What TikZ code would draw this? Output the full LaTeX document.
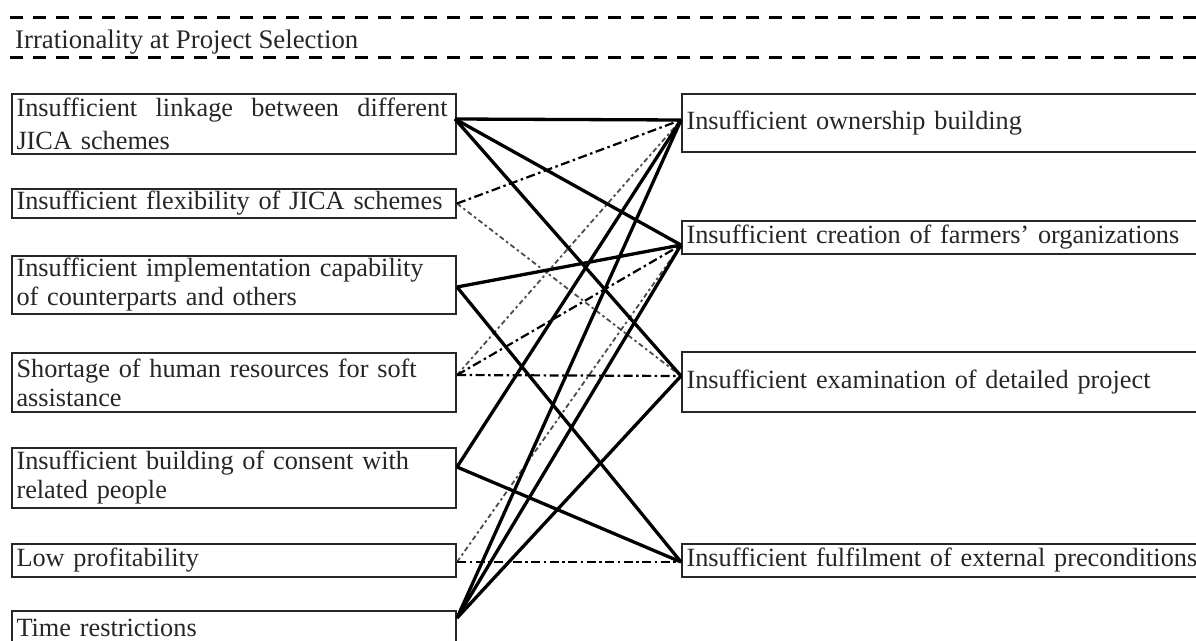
\documentclass[tikz,border=0pt]{standalone}
\usepackage{fontspec}
\setmainfont[Ligatures=NoCommon]{Liberation Serif}
\usetikzlibrary{calc}
\newcommand\boxfont{\fontsize{26.3}{29}\selectfont}
\tikzset{
  lbox/.style={draw=black!85, line width=2pt, inner xsep=4.5pt, inner ysep=0pt,
    text width=435pt, align=left, font=\boxfont, text=black!85},
  rbox/.style={draw=black!85, line width=2pt, inner xsep=4.5pt, inner ysep=0pt,
    text width=524pt, align=left, font=\boxfont, text=black!85},
  solidc/.style={line width=3.3pt, black},
  dashdot/.style={line width=2.2pt, black, dash pattern=on 9pt off 3.5pt on 2.5pt off 3.5pt},
  dotgray/.style={line width=1.8pt, black!70, dash pattern=on 5pt off 3pt on 2.5pt off 3pt},
  titledash/.style={line width=3pt, black, dash pattern=on 13pt off 10pt}
}
\begin{document}
\begin{tikzpicture}[x=1pt,y=-1pt]
\useasboundingbox (0,0) rectangle (1196,640);
\clip (0,0) rectangle (1196,640);

% title band
\node[anchor=base west, inner sep=0pt, font=\fontsize{26.8}{29}\selectfont, text=black!85] (title) at (15,48) {Irrationality at Project Selection};
\coordinate (tl1) at (10,17);
\coordinate (tr1) at (1200,17);
\coordinate (tl2) at (10,57);
\coordinate (tr2) at (1200,57);
\draw[titledash] (tl1) -- (tr1);
\draw[titledash] (tl2) -- (tr2);

% left boxes
\node[lbox, minimum height=60pt, font=\fontsize{26.3}{33}\selectfont] (L1) at (234,124)
  {\hbox to 431pt{Insufficient\hfill linkage\hfill between\hfill different}\\JICA schemes};
\node[lbox, minimum height=29pt] (L2) at (234,203.5) {Insufficient flexibility of JICA schemes};
\node[lbox, minimum height=58pt] (L3) at (234,285) {Insufficient implementation capability\\of counterparts and others};
\node[lbox, minimum height=59pt] (L4) at (234,382.5) {Shortage of human resources for soft\\assistance};
\node[lbox, minimum height=60pt] (L5) at (234,478) {Insufficient building of consent with\\related people};
\node[lbox, minimum height=33pt] (L6) at (234,560.5) {Low profitability};
\node[lbox, minimum height=34pt] (L7) at (234,628) {Time restrictions};

% right boxes
\node[rbox, minimum height=58pt] (R1) at (948.5,123) {Insufficient ownership building};
\node[rbox, minimum height=33pt] (R2) at (948.5,237.5) {Insufficient creation of farmers’ organizations};
\node[rbox, minimum height=60pt] (R3) at (948.5,382) {Insufficient examination of detailed project};
\node[rbox, minimum height=33pt] (R4) at (948.5,560.5) {Insufficient fulfilment of external preconditions};

% connection points
\coordinate (l1) at ($(L1.east)+(-2,-5)$);
\coordinate (l2) at ($(L2.east)+(0,0)$);
\coordinate (l3) at ($(L3.east)+(0,2)$);
\coordinate (l4) at ($(L4.east)+(0,-7.5)$);
\coordinate (l5) at ($(L5.east)+(0,-11)$);
\coordinate (l6) at ($(L6.east)+(0,1.5)$);
\coordinate (l7) at ($(L7.east)+(0,-10)$);
\coordinate (r1) at ($(R1.west)+(0,-3)$);
\coordinate (r2) at ($(R2.west)+(0,7.5)$);
\coordinate (r3) at ($(R3.west)+(0,-6)$);
\coordinate (r4) at ($(R4.west)+(0,1.5)$);

% dotted / dash-dot relations
\draw[dotgray] (l2) -- (r3);
\draw[dotgray] (l4) -- (r1);
\draw[dotgray] (l6) -- (r2);
\draw[dashdot] (l2) -- (r1);
\draw[dashdot] (l4) -- (r2);
\draw[dashdot] (l4) -- (r3);
\draw[dashdot] (l6) -- (r4);

% solid relations
\draw[solidc] (l1) -- (r1);
\draw[solidc] (l1) -- (r2);
\draw[solidc] (l1) -- (r3);
\draw[solidc] (l3) -- (r2);
\draw[solidc] (l3) -- (r4);
\draw[solidc] (l5) -- (r1);
\draw[solidc] (l5) -- (r4);
\draw[solidc] (l7) -- (r1);
\draw[solidc] (l7) -- (r2);
\draw[solidc] (l7) -- (r3);
\end{tikzpicture}
\end{document}
